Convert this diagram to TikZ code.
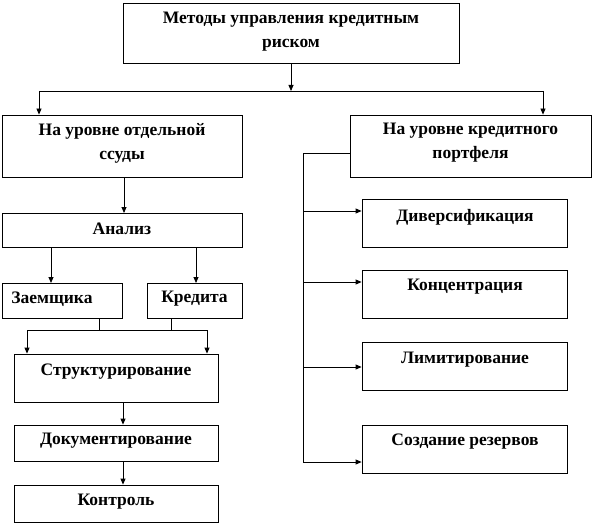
\documentclass[tikz,border=0pt]{standalone}
\usepackage{fontspec}
\setmainfont{Liberation Serif}
\usetikzlibrary{arrows.meta}
\begin{document}
\begin{tikzpicture}[x=1pt,y=-1pt,
  box/.style={draw, line width=0.8pt, rectangle, inner sep=0pt},
  txt/.style={inner sep=0pt, align=center, font=\fontsize{17.5}{24}\selectfont\bfseries},
  conn/.style={line width=0.8pt},
  arr/.style={line width=0.8pt, -{Triangle[length=6pt,width=5pt]}}]
\useasboundingbox (0,0) rectangle (594,524);
% boxes
\node[box, minimum width=336pt, minimum height=60pt] (top) at (291,33) {};
\node[txt] (topt) at (291,32) {Методы управления кредитным\\риском};
\node[box, minimum width=240pt, minimum height=62pt] (loan) at (122,146) {};
\node[txt] (loant) at (122,143) {На уровне отдельной\\ссуды};
\node[box, minimum width=241pt, minimum height=62pt] (port) at (470.5,146) {};
\node[txt] (portt) at (470.5,143) {На уровне кредитного\\портфеля};
\node[box, minimum width=240pt, minimum height=34pt] (anal) at (122,230) {};
\node[txt] (analt) at (122,229) {Анализ};
\node[box, minimum width=120pt, minimum height=35pt] (zaem) at (62,300.5) {};
\node[txt] (zaemt) at (52,299) {Заемщика};
\node[box, minimum width=95pt, minimum height=35pt] (kred) at (194.5,300.5) {};
\node[txt] (kredt) at (194.5,299) {Кредита};
\node[box, minimum width=204pt, minimum height=48pt] (str) at (116,378) {};
\node[txt] (strt) at (116,372) {Структурирование};
\node[box, minimum width=204pt, minimum height=36pt] (doc) at (116,443) {};
\node[txt] (doct) at (116,441) {Документирование};
\node[box, minimum width=204pt, minimum height=37pt] (ctrl) at (116,503.5) {};
\node[txt] (ctrlt) at (116,502) {Контроль};
\node[box, minimum width=205pt, minimum height=48pt] (div) at (464.5,223) {};
\node[txt] (divt) at (465,217) {Диверсификация};
\node[box, minimum width=205pt, minimum height=48pt] (conc) at (464.5,294) {};
\node[txt] (conct) at (465,287) {Концентрация};
\node[box, minimum width=205pt, minimum height=48pt] (lim) at (464.5,366) {};
\node[txt] (limt) at (465,360) {Лимитирование};
\node[box, minimum width=205pt, minimum height=48pt] (res) at (464.5,449) {};
\node[txt] (rest) at (465,442) {Создание резервов};
% junction coordinates
\coordinate (j0) at (291,91);
\coordinate (jl) at (39,91);
\coordinate (jr) at (543,91);
\coordinate (pj) at (303,153);
\coordinate (pe) at (303,463);
\coordinate (sj) at (27,330);
\coordinate (sr) at (207,330);
% connectors
\draw[arr] (top.south -| j0) -- (j0);
\draw[conn] (jl) -- (jr);
\draw[arr] (jl) -- (jl |- loan.north);
\draw[arr] (jr) -- (jr |- port.north);
\draw[arr] (124,177) -- (124,213);
\draw[arr] (51,247) -- (51,283);
\draw[arr] (196,247) -- (196,283);
\draw[conn] (zaem.south -| 99,0) -- (99,330);
\draw[conn] (kred.south -| 171,0) -- (171,330);
\draw[conn] (sj) -- (sr);
\draw[arr] (sj) -- (sj |- str.north);
\draw[arr] (sr) -- (sr |- str.north);
\draw[arr] (str.south -| 123,0) -- (doc.north -| 123,0);
\draw[arr] (doc.south -| 123,0) -- (ctrl.north -| 123,0);
\draw[conn] (port.west |- pj) -- (pj) -- (pe);
\draw[arr] (303,211) -- (div.west |- 0,211);
\draw[arr] (303,282) -- (conc.west |- 0,282);
\draw[arr] (303,367) -- (lim.west |- 0,367);
\draw[arr] (303,462) -- (res.west |- 0,462);
\end{tikzpicture}
\end{document}
